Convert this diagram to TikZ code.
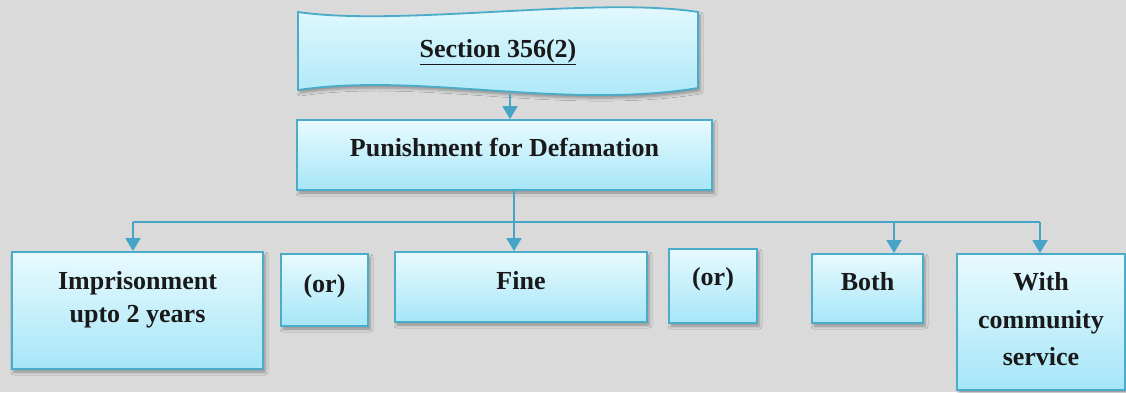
\documentclass[tikz,border=0pt]{standalone}
\usepackage{fontspec}
\setmainfont{Liberation Serif}
\usetikzlibrary{arrows.meta,shadows.blur}
\definecolor{bg}{RGB}{218,218,218}
\definecolor{edge}{RGB}{74,172,200}
\definecolor{topc}{RGB}{232,250,254}
\definecolor{botc}{RGB}{166,230,248}
\definecolor{wire}{RGB}{70,165,198}
\definecolor{ink}{RGB}{25,25,25}
\tikzset{
  softshadow/.style={blur shadow={shadow xshift=2pt, shadow yshift=-3pt,
      shadow blur radius=3pt, shadow opacity=35}},
  box/.style={draw=edge, line width=1.8pt, top color=topc, bottom color=botc,
      softshadow, inner sep=0pt},
  lbl/.style={anchor=base, font=\fontsize{26}{30}\selectfont\bfseries,
      text=ink, inner sep=0pt},
  conn/.style={draw=wire, line width=1.8pt},
  arr/.style={conn, -{Triangle[width=15pt,length=13pt]}},
}
\begin{document}
\begin{tikzpicture}[x=1pt, y=-1pt]
  % canvas
  \fill[bg] (0,0) rectangle (1126,392);
  \useasboundingbox (0,0) rectangle (1126,392);

  % wavy title banner
  \path[draw=edge, line width=1.8pt, top color=topc, bottom color=botc, softshadow]
    (298,12) .. controls (400,27) and (596,-4) .. (698,12)
    -- (698,88) .. controls (560,110) and (420,72) .. (298,90) -- cycle;
  \node[lbl] (title) at (498,57) {\underline{Section 356(2)}};
  \coordinate (bannerfoot) at (510,94);

  % boxes
  \node[box, minimum width=415pt, minimum height=70pt] (pun) at (504.5,155) {};
  \node[box, minimum width=251pt, minimum height=117pt] (imp) at (137.5,310.5) {};
  \node[box, minimum width=87pt,  minimum height=72pt]  (or1) at (324.5,290) {};
  \node[box, minimum width=252pt, minimum height=70pt]  (fine) at (521,287) {};
  \node[box, minimum width=88pt,  minimum height=74pt]  (or2) at (713,286) {};
  \node[box, minimum width=111pt, minimum height=69pt]  (both) at (867.5,288.5) {};
  \node[box, minimum width=168pt, minimum height=136pt] (with) at (1041,322) {};

  % labels
  \node[lbl] (punT) at (504.5,156) {Punishment for Defamation};
  \node[lbl] (impT1) at (137.5,289) {Imprisonment};
  \node[lbl] (impT2) at (137.5,322) {upto 2 years};
  \node[lbl] (or1T) at (324.5,292) {(or)};
  \node[lbl] (fineT) at (521,289) {Fine};
  \node[lbl] (or2T) at (713,285) {(or)};
  \node[lbl] (bothT) at (867.5,290) {Both};
  \node[lbl] (withT1) at (1041,290) {With};
  \node[lbl] (withT2) at (1041,328) {community};
  \node[lbl] (withT3) at (1041,365) {service};

  % connectors
  \coordinate (tImp)  at (133,222);
  \coordinate (tFine) at (514,222);
  \coordinate (tBoth) at (894,222);
  \coordinate (tWith) at (1040,222);

  \draw[arr] (bannerfoot) -- (bannerfoot |- pun.north);
  \draw[conn] (pun.south -| tFine) -- (tFine);
  \draw[conn] (tImp) -- (tWith);
  \draw[arr] (tImp)  -- (tImp |- imp.north);
  \draw[arr] (tFine) -- (tFine |- fine.north);
  \draw[arr] (tBoth) -- (tBoth |- both.north);
  \draw[arr] (tWith) -- (tWith |- with.north);
\end{tikzpicture}
\end{document}
